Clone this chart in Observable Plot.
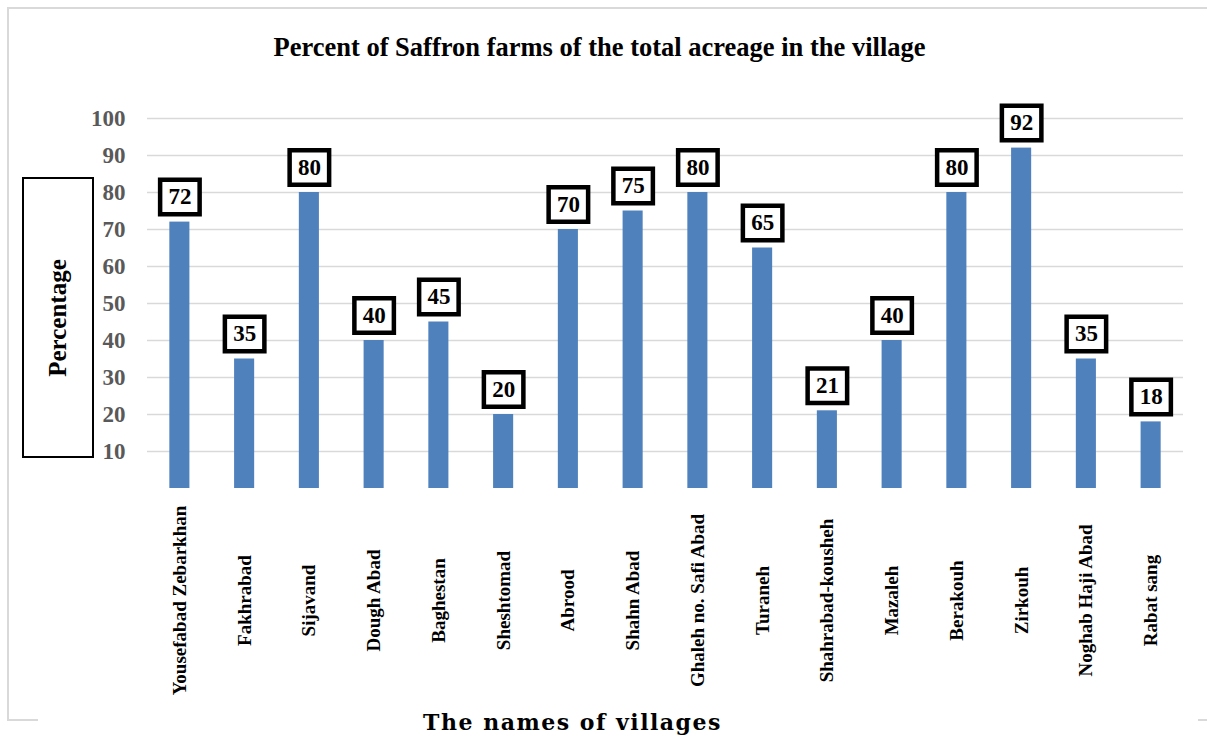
<!DOCTYPE html>
<html>
<head>
<meta charset="utf-8">
<script src="https://cdn.jsdelivr.net/npm/d3@7"></script>
<script src="https://cdn.jsdelivr.net/npm/@observablehq/plot@0.6"></script>
<style>
  body { margin: 0; background: #fff; }
  #wrap { position: relative; width: 1207px; height: 740px; overflow: hidden; font-family: "Liberation Serif", "Times New Roman", serif; }
  #chart { position: absolute; left: 0; top: 0; }
  .fl { position: absolute; background: #d9d9d9; }
  #title { position: absolute; left: 0; top: 33px; width: 1199px; text-align: center; font-weight: bold; font-size: 26.5px; line-height: 28px; color: #000; }
  #ybox { position: absolute; left: 22px; top: 177px; width: 72px; height: 281px; box-sizing: border-box; border: 2px solid #000; background: #fff; }
  #ybox span { position: absolute; left: 50%; top: 50%; transform: translate(-50%, -50%) rotate(-90deg); font-weight: bold; font-size: 25px; white-space: nowrap; color: #000; }
  #xtitle { position: absolute; left: 0; top: 709px; width: 1145px; text-align: center; font-family: "DejaVu Serif", serif; font-weight: bold; font-size: 22px; letter-spacing: 1.5px; line-height: 26px; color: #000; }
</style>
</head>
<body>
<div id="wrap">
  <div class="fl" style="left:7px;top:7px;width:1200px;height:2px;"></div>
  <div class="fl" style="left:7px;top:7px;width:2px;height:714px;"></div>
  <div class="fl" style="left:7px;top:719px;width:31px;height:2px;"></div>
  <div class="fl" style="left:1198px;top:719px;width:9px;height:2px;"></div>
  <div id="chart"></div>
  <div id="title">Percent of Saffron farms of the total acreage in the village</div>
  <div id="ybox"><span>Percentage</span></div>
  <div id="xtitle">The names of villages</div>
</div>
<script>
const villages = [
  "Yousefabad Zebarkhan", "Fakhrabad", "Sijavand", "Dough Abad", "Baghestan",
  "Sheshtomad", "Abrood", "Shahn Abad", "Ghaleh no. Safi Abad", "Turaneh",
  "Shahrabad-kousheh", "Mazaleh", "Berakouh", "Zirkouh", "Noghab Haji Abad", "Rabat sang"
];
const percents = [72, 35, 80, 40, 45, 20, 70, 75, 80, 65, 21, 40, 80, 92, 35, 18];
const yTicks = [10, 20, 30, 40, 50, 60, 70, 80, 90, 100];

const data = villages.map((v, i) => ({village: v, pct: percents[i]}));

const labelBox = {
  draw(ctx) { ctx.rect(-19.75, -17.25, 39.5, 34.5); }
};

const chart = Plot.plot({
  width: 1207,
  height: 740,
  marginTop: 118,
  marginBottom: 252,
  marginLeft: 147,
  marginRight: 24,
  style: {fontFamily: '"Liberation Serif", "Times New Roman", serif', background: "transparent"},
  x: {domain: villages, paddingInner: 0.69, paddingOuter: 0.345, round: false, axis: null},
  y: {domain: [0, 100], axis: null},
  marks: [
    Plot.gridY(yTicks, {stroke: "#d9d9d9", strokeOpacity: 1, strokeWidth: 1.5}),
    Plot.axisY(yTicks, {tickSize: 0, tickPadding: 22, fontSize: 23, fontWeight: "bold", color: "#595959", fill: "#595959", label: null}),
    Plot.barY(data, {x: "village", y: "pct", fill: "#4f81bd"}),
    Plot.dot(data, {x: "village", y: "pct", dy: -25, symbol: labelBox, r: 10, fill: "white", stroke: "black", strokeWidth: 4.5}),
    Plot.text(data, {x: "village", y: "pct", dy: -25, text: d => String(d.pct), fontSize: 23, fontWeight: "bold", fill: "black"}),
    Plot.text(villages, {x: d => d, text: d => d, frameAnchor: "bottom", dy: 112, rotate: -90, textAnchor: "middle", lineAnchor: "middle", fontSize: 19, fontWeight: "bold", fill: "black"})
  ]
});
document.getElementById("chart").appendChild(chart);
</script>
</body>
</html>
